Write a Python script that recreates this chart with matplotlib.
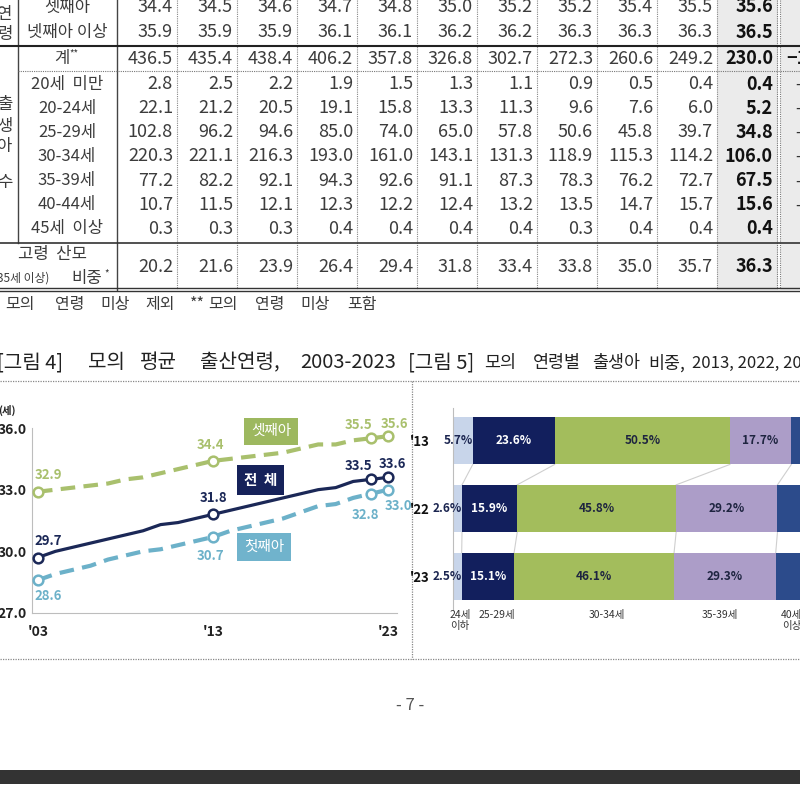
import numpy as np
import matplotlib.pyplot as plt
from matplotlib.patches import Rectangle

plt.rcParams['font.family'] = ['Noto Sans CJK KR', 'DejaVu Sans']
plt.rcParams['axes.unicode_minus'] = False

# ---- 표: 2013 ~ 2023 ----
tbl_third = [34.4, 34.5, 34.6, 34.7, 34.8, 35.0, 35.2, 35.2, 35.4, 35.5, 35.6]
tbl_fourth = [35.9, 35.9, 35.9, 36.1, 36.1, 36.2, 36.2, 36.3, 36.3, 36.3, 36.5]
tbl_total = [436.5, 435.4, 438.4, 406.2, 357.8, 326.8, 302.7, 272.3, 260.6, 249.2, 230.0]
b_u20 = [2.8, 2.5, 2.2, 1.9, 1.5, 1.3, 1.1, 0.9, 0.5, 0.4, 0.4]
b_2024 = [22.1, 21.2, 20.5, 19.1, 15.8, 13.3, 11.3, 9.6, 7.6, 6.0, 5.2]
b_2529 = [102.8, 96.2, 94.6, 85.0, 74.0, 65.0, 57.8, 50.6, 45.8, 39.7, 34.8]
b_3034 = [220.3, 221.1, 216.3, 193.0, 161.0, 143.1, 131.3, 118.9, 115.3, 114.2, 106.0]
b_3539 = [77.2, 82.2, 92.1, 94.3, 92.6, 91.1, 87.3, 78.3, 76.2, 72.7, 67.5]
b_4044 = [10.7, 11.5, 12.1, 12.3, 12.2, 12.4, 13.2, 13.5, 14.7, 15.7, 15.6]
b_45up = [0.3, 0.3, 0.3, 0.4, 0.4, 0.4, 0.4, 0.3, 0.4, 0.4, 0.4]
old_share = [20.2, 21.6, 23.9, 26.4, 29.4, 31.8, 33.4, 33.8, 35.0, 35.7, 36.3]
age_labels = ['20세  미만', '20-24세', '25-29세', '30-34세', '35-39세', '40-44세', '45세  이상']
age_rows = [b_u20, b_2024, b_2529, b_3034, b_3539, b_4044, b_45up]

# ---- 그림 4: 모의 평균 출산연령 ----
line_years = list(range(2003, 2024))
age_all = [29.7, 30.0, 30.2, 30.4, 30.6, 30.8, 31.0, 31.3, 31.4, 31.6, 31.8,
           32.0, 32.2, 32.4, 32.6, 32.8, 33.0, 33.1, 33.4, 33.5, 33.6]
age_first = [28.6, 28.9, 29.1, 29.3, 29.6, 29.8, 30.0, 30.1, 30.3, 30.5, 30.7,
             31.0, 31.2, 31.4, 31.6, 31.9, 32.2, 32.3, 32.6, 32.8, 33.0]
age_third = [32.9, 33.0, 33.1, 33.2, 33.3, 33.5, 33.6, 33.8, 34.0, 34.2, 34.4,
             34.5, 34.6, 34.7, 34.8, 35.0, 35.2, 35.2, 35.4, 35.5, 35.6]
mark_years = [2003, 2013, 2022, 2023]

# ---- 그림 5: 모의 연령별 출생아 비중 ----
bar_years = ["'13", "'22", "'23"]
bar_groups = ['24세\n이하', '25-29세', '30-34세', '35-39세', '40세\n이상']
share_13 = [5.7, 23.6, 50.5, 17.7, 2.5]
share_22 = [2.6, 15.9, 45.8, 29.2, 6.5]
share_23 = [2.5, 15.1, 46.1, 29.3, 7.0]

fig = plt.figure(figsize=(8, 8), dpi=100)
bg = fig.add_axes([0, 0, 1, 1])
bg.set_xlim(0, 800)
bg.set_ylim(800, 0)
bg.axis('off')

dot = (0, (1, 1))
txt = '#3c3c3c'

# 표 배경 / 선
bg.add_patch(Rectangle((717, 0), 61, 290, color='#ebebeb', lw=0))
bg.add_patch(Rectangle((781, 0), 20, 290, color='#ebebeb', lw=0))
edges = [117 + 60 * i for i in range(12)]
for x in edges[1:-1]:
    bg.plot([x, x], [0, 289], color='#888', lw=0.8, ls=dot)
for x in (777, 780):
    bg.plot([x, x], [0, 289], color='#777', lw=0.8, ls=dot)
bg.plot([117, 117], [0, 290], color='#444', lw=1.0)
bg.plot([18, 18], [0, 243], color='#444', lw=1.0)
bg.plot([0, 800], [46, 46], color='#222', lw=1.5)
bg.plot([18, 800], [71, 71], color='#777', lw=0.8, ls=dot)
bg.plot([0, 800], [243, 243], color='#333', lw=1.2)
bg.plot([0, 800], [288, 288], color='#333', lw=1.0)
bg.plot([0, 800], [291, 291], color='#333', lw=1.0)


def put_row(y, vals):
    for j, v in enumerate(vals):
        bold = j == len(vals) - 1
        bg.text(edges[j + 1] - 4, y, f'{v:.1f}', ha='right', va='center',
                fontsize=13, color='#111' if bold else txt,
                fontweight='bold' if bold else 'normal')


put_row(7, tbl_third)
put_row(32, tbl_fourth)
put_row(59, tbl_total)
row_y = [84, 108, 132, 156, 181, 205, 229]
for y, lab, vals in zip(row_y, age_labels, age_rows):
    bg.text(67, y, lab, ha='center', va='center', fontsize=12, color=txt)
    put_row(y, vals)
put_row(267, old_share)

bg.text(67, 7, '셋째아', ha='center', va='center', fontsize=12, color=txt)
bg.text(67, 32, '넷째아 이상', ha='center', va='center', fontsize=12, color=txt)
bg.text(62, 59, '계', ha='center', va='center', fontsize=12, color=txt)
bg.text(69, 53, '**', ha='left', va='center', fontsize=7, color=txt)
bg.text(53, 255, '고령  산모', ha='center', va='center', fontsize=12, color=txt)
bg.text(49, 278, '(35세 이상)', ha='right', va='center', fontsize=8.5, color=txt)
bg.text(71, 278, '비중', ha='left', va='center', fontsize=12, color=txt)
bg.text(104, 273, '*', ha='left', va='center', fontsize=7, color=txt)
for ch, y in zip('연령', (14, 34)):
    bg.text(5, y, ch, ha='center', va='center', fontsize=12, color=txt)
for ch, y in zip('출생아수', (105, 126, 147, 183)):
    bg.text(5, y, ch, ha='center', va='center', fontsize=12, color=txt)
bg.text(786, 59, '−1', ha='left', va='center', fontsize=13, color='#111', fontweight='bold')
for y in row_y[:-1]:
    bg.text(795, y, '-', ha='left', va='center', fontsize=11, color='#333')

for x, w in [(5, '모의'), (55, '연령'), (100, '미상'), (145, '제외'), (190, '**'),
             (208, '모의'), (255, '연령'), (300, '미상'), (347, '포함')]:
    bg.text(x, 304, w, ha='left', va='center', fontsize=11.5, color=txt)

# 그림 제목
for x, w in [(-3, '[그림 4]'), (88, '모의'), (140, '평균'), (200, '출산연령,'), (300, '2003-2023'),
             (408, '[그림 5]')]:
    bg.text(x, 363, w, ha='left', va='center', fontsize=14.5, color='#222')
for x, w in [(484, '모의'), (533, '연령별'), (592, '출생아'), (648, '비중,')]:
    bg.text(x, 363, w, ha='left', va='center', fontsize=12.5, color='#222')
bg.text(692, 363, '2013, 2022, 2023', ha='left', va='center', fontsize=12, color='#222')
bg.plot([0, 800], [381, 381], color='#888', lw=0.9, ls=dot)
bg.plot([0, 800], [659, 659], color='#888', lw=0.9, ls=dot)
bg.plot([412, 412], [381, 659], color='#888', lw=0.9, ls=dot)
bg.text(-2, 410, '(세)', ha='left', va='center', fontsize=7.5, color='#222', fontweight='bold')

bg.text(410, 705, '- 7 -', ha='center', va='center', fontsize=12, color='#555')
bg.add_patch(Rectangle((0, 770), 800, 14, color='#333333', lw=0))

# ---- 그림 4 ----
ax = fig.add_axes([32 / 800, 187 / 800, 365 / 800, 185 / 800])
navy, green, blue = '#1b2857', '#a9c06d', '#6cb1c9'
ax.plot(line_years, age_third, color=green, lw=3, dashes=(3.5, 2), zorder=2)
ax.plot(line_years, age_first, color=blue, lw=3, dashes=(3.5, 2), zorder=2)
ax.plot(line_years, age_all, color=navy, lw=2.3, zorder=3)
for series, col in [(age_third, green), (age_first, blue), (age_all, navy)]:
    my = [series[line_years.index(y)] for y in mark_years]
    ax.plot(mark_years, my, 'o', ms=7, mfc='white', mec=col, mew=1.8, zorder=4)

offs_all = [(10, 17), (0, 16), (-12, 13), (4, 13)]
offs_third = [(10, 17), (-3, 16), (-12, 13), (6, 12)]
offs_first = [(10, -16), (-3, -19), (-5, -21), (10, -16)]
for series, col, offs in [(age_all, navy, offs_all), (age_third, green, offs_third),
                          (age_first, blue, offs_first)]:
    for y, (dx, dy) in zip(mark_years, offs):
        v = series[line_years.index(y)]
        ax.annotate(f'{v:.1f}', (y, v), xytext=(dx, dy), textcoords='offset pixels',
                    ha='center', va='center', fontsize=9.5, color=col, fontweight='bold')

box = dict(boxstyle='square,pad=0.45', lw=0)
ax.text(2016.3, 35.85, '셋째아', ha='center', va='center', fontsize=10.5, color='white',
        bbox=dict(box, fc='#9db85f'))
ax.text(2015.7, 33.47, '전  체', ha='center', va='center', fontsize=10.5, color='white',
        fontweight='bold', bbox=dict(box, fc='#16225a'))
ax.text(2015.9, 30.21, '첫째아', ha='center', va='center', fontsize=10.5, color='white',
        bbox=dict(box, fc='#70b3cc'))

ax.set_xlim(2002.66, 2023.5)
ax.set_ylim(27, 36)
ax.set_yticks([27, 30, 33, 36])
ax.set_yticklabels([f'{v:.1f}' for v in (27, 30, 33, 36)], fontsize=10, fontweight='bold', color='#222')
ax.set_xticks([2003, 2013, 2023])
ax.set_xticklabels(["'03", "'13", "'23"], fontsize=10, fontweight='bold', color='#222')
ax.tick_params(axis='y', length=0, pad=4)
ax.tick_params(axis='x', length=0, pad=9)
for s in ('top', 'right'):
    ax.spines[s].set_visible(False)
for s in ('left', 'bottom'):
    ax.spines[s].set_color('#bdbdbd')
ax.patch.set_alpha(0)

# ---- 그림 5 ----
axb = fig.add_axes([453 / 800, 190 / 800, 347 / 800, 202 / 800])
bar_colors = ['#c8d5ea', '#121f5d', '#a3bd5c', '#ac9dc8', '#2c4b8b']
shares = [share_13, share_22, share_23]
ypos = np.arange(len(bar_years))
lefts = np.zeros(len(bar_years))
for k, col in enumerate(bar_colors):
    vals = np.array([s[k] for s in shares])
    axb.barh(ypos, vals, left=lefts, height=0.7, color=col, zorder=2)
    for i in range(len(bar_years)):
        if k == 0:
            axb.text(lefts[i] + vals[i], ypos[i], f'{vals[i]:.1f}%', ha='right', va='center',
                     fontsize=8.5, color='#1b2550', fontweight='bold', zorder=3)
        elif k < 4:
            axb.text(lefts[i] + vals[i] / 2, ypos[i], f'{vals[i]:.1f}%', ha='center', va='center',
                     fontsize=8.5, color='white' if k == 1 else '#1e2440', fontweight='bold', zorder=3)
    lefts += vals
cums = [np.cumsum(s) for s in shares]
for i in range(len(shares) - 1):
    for b in range(4):
        axb.plot([cums[i][b], cums[i + 1][b]], [ypos[i] + 0.35, ypos[i + 1] - 0.35],
                 color='#cfcfcf', lw=0.8, zorder=1)
axb.set_xlim(0, 100)
axb.set_ylim(2.49, -0.48)
axb.set_xticks([])
axb.set_yticks(ypos)
axb.set_yticklabels(bar_years, fontsize=9.5, color='#111', fontweight='bold')
axb.tick_params(axis='y', length=0, pad=17)
for s in ('top', 'right', 'bottom'):
    axb.spines[s].set_visible(False)
axb.spines['left'].set_color('#bdbdbd')
axb.patch.set_alpha(0)
for x, lab in zip([2.0, 12.7, 44.3, 77.0, 97.5], bar_groups):
    axb.text(x, 2.49, lab, transform=axb.transData, ha='center', va='top', fontsize=7.5,
             color='#333', linespacing=1.1)
for t in axb.texts:
    t.set_clip_on(False)

fig.savefig('out.png', dpi=100)
